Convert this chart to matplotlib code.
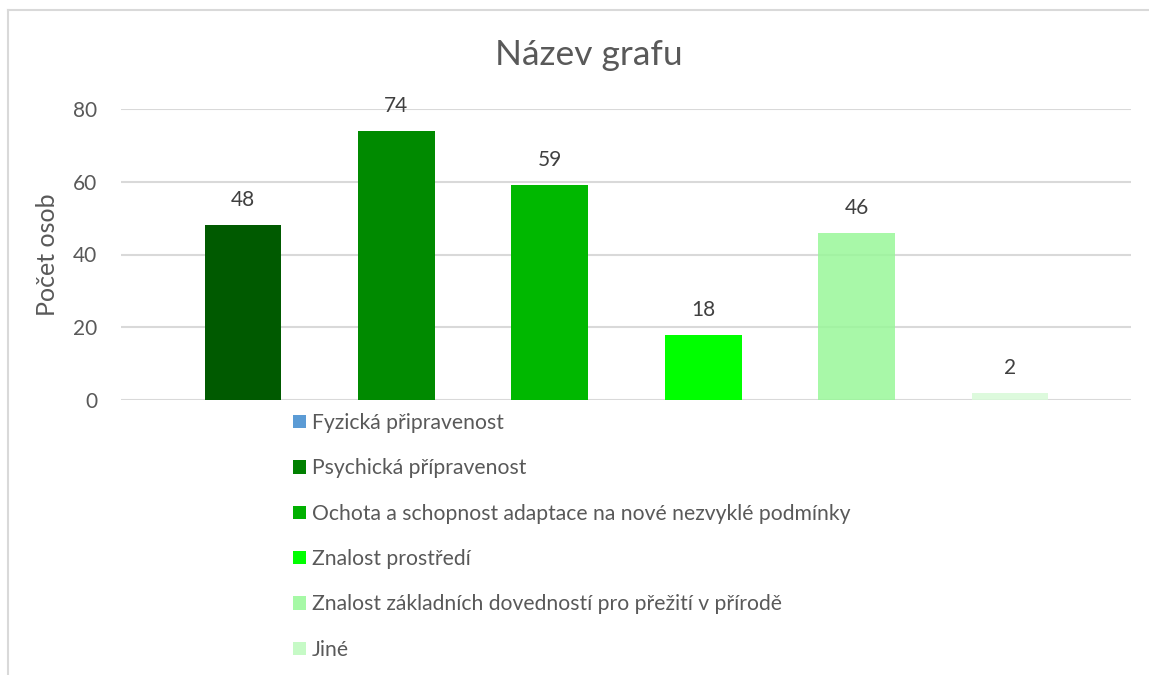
import matplotlib
matplotlib.use("Agg")
import matplotlib.pyplot as plt
from matplotlib.patches import Patch
from matplotlib.lines import Line2D

plt.rcParams['font.family'] = ['Lato', 'DejaVu Sans']

# data
kategorie = ["Psychická přípravenost",
             "Ochota a schopnost adaptace na nové nezvyklé podmínky",
             "Znalost prostředí",
             "Znalost základních dovedností pro přežití v přírodě",
             "Jiné",
             ""]
hodnoty = [48, 74, 59, 18, 46, 2]
barvy_sloupcu = ["#005a00", "#008a00", "#00b800", "#00ff00", "#99f799", "#d8fad8"]

legenda_popisky = ["Fyzická připravenost",
                   "Psychická přípravenost",
                   "Ochota a schopnost adaptace na nové nezvyklé podmínky",
                   "Znalost prostředí",
                   "Znalost základních dovedností pro přežití v přírodě",
                   "Jiné"]
legenda_barvy = ["#5b9bd5", "#008000", "#00b000", "#00ff00", "#a6f9a6", "#c6fac6"]

W, H = 1149, 675
fig = plt.figure(figsize=(W / 100, H / 100), dpi=100)

# ramecek grafu (jen horni a leva hrana je videt)
fig.add_artist(Line2D([8 / W, 8 / W], [0, 1 - 10 / H], color="#d9d9d9", lw=1.5))
fig.add_artist(Line2D([8 / W, 1], [1 - 10 / H, 1 - 10 / H], color="#d9d9d9", lw=1.5))

ax = fig.add_axes([121 / W, 275 / H, 1010 / W, 291 / H])
x = list(range(len(hodnoty)))
bars = ax.bar(x, hodnoty, width=0.5, color=barvy_sloupcu, zorder=3)
bars[4].set_alpha(0.85)
bars[5].set_alpha(0.85)

for xi, v in zip(x, hodnoty):
    ax.annotate(str(v), (xi, v), xytext=(0, 15), textcoords="offset pixels",
                ha="center", va="bottom", fontsize=15, color="#404040")

ax.set_xlim(-0.795, 5.788)
ax.set_ylim(0, 80)
ax.set_yticks([0, 20, 40, 60, 80])
ax.set_xticks([])
ax.grid(axis="y", color="#d9d9d9", lw=1.5, zorder=0)
ax.set_axisbelow(True)
for s in ax.spines.values():
    s.set_visible(False)
ax.tick_params(axis="y", length=0, pad=17, labelsize=15, labelcolor="#595959")
ax.set_ylabel("Počet osob", fontsize=18, color="#595959", labelpad=10)

fig.text(589 / W, 1 - 55 / H, "Název grafu", ha="center", va="center",
         fontsize=25.5, color="#595959")

handles = [Patch(facecolor=c, edgecolor="none") for c in legenda_barvy]
fig.legend(handles, legenda_popisky, loc="upper left",
           bbox_to_anchor=(293 / W, 1 - 413 / H), frameon=False,
           fontsize=15.2, labelcolor="#595959", handlelength=0.6, handleheight=0.6,
           handletextpad=0.3, labelspacing=1.2, borderpad=0, borderaxespad=0)

fig.savefig("out.png", dpi=100)
